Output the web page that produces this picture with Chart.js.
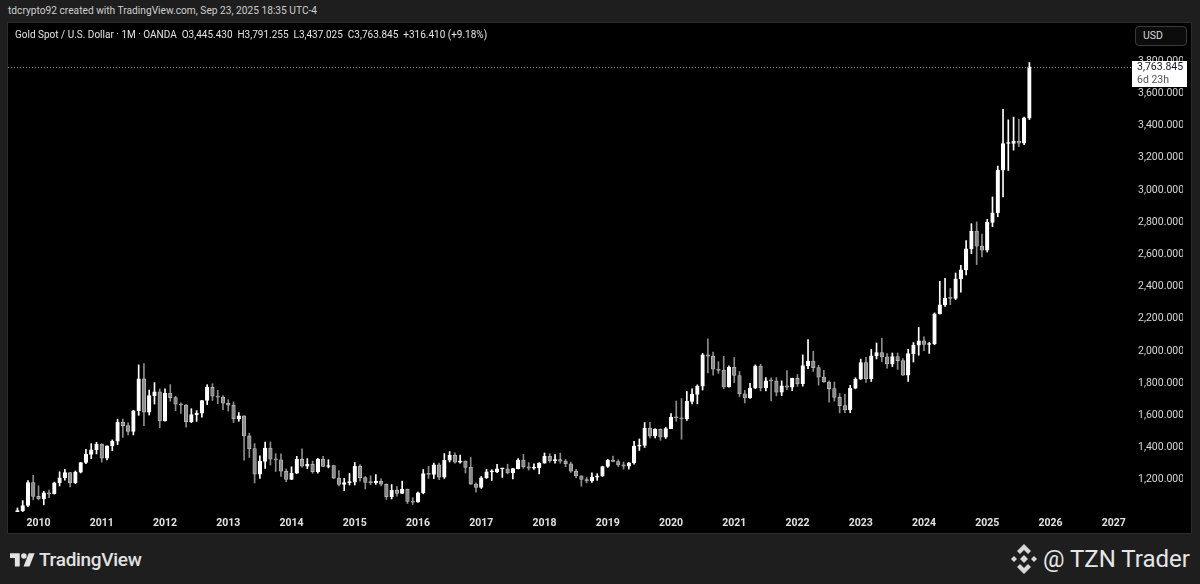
<!DOCTYPE html>
<html>
<head>
<meta charset="utf-8">
<script src="https://cdn.jsdelivr.net/npm/chart.js@4/dist/chart.umd.min.js"></script>
<style>
html,body{margin:0;padding:0;background:#1e1e1e;width:1200px;height:584px;overflow:hidden;font-family:Roboto,"Liberation Sans",sans-serif;}
#credit{position:absolute;left:8px;top:5px;font-size:10.2px;color:#cfcfcf;white-space:nowrap;}
#pane{position:absolute;left:8px;top:23px;width:1183px;height:510px;background:#000;box-shadow:0 0 0 1px #2b2b2b;}
#pane canvas{position:absolute;left:0;top:0;}
#legend{position:absolute;left:15px;top:29px;font-size:10px;color:#e4e4e4;white-space:nowrap;}
#usd{position:absolute;left:1135px;top:26px;width:52px;height:20px;border:1px solid #3a3a3a;border-radius:4px;background:#0c0c0c;box-sizing:border-box;color:#d6d6d6;font-size:10.5px;line-height:18px;padding-left:7px;}
#tvlogo{position:absolute;left:10px;top:548px;display:flex;align-items:center;color:#e2e2e2;font-size:19px;font-weight:500;letter-spacing:-0.3px;}
#tvlogo svg{margin-right:4px;}
#brand{position:absolute;left:1010px;top:543px;display:flex;align-items:center;color:#e6e6e6;font-size:24px;white-space:nowrap;}
#brand svg{margin-right:5px;}
</style>
</head>
<body>
<div id="credit">tdcrypto92 created with TradingView.com, Sep 23, 2025 18:35 UTC-4</div>
<div id="pane"><canvas id="c" width="1183" height="510"></canvas></div>
<div id="legend">Gold Spot / U.S. Dollar · 1M · OANDA&nbsp; O3,445.430&nbsp; H3,791.255&nbsp; L3,437.025&nbsp; C3,763.845&nbsp; +316.410 (+9.18%)</div>
<div id="usd">USD</div>
<div id="tvlogo"><svg width="25" height="17" viewBox="0 0 36 24"><path d="M14 22H7V10H0V3h14v19zM28 22h-8.5L27 3h8.5L28 22z" fill="#e2e2e2"/><circle cx="20" cy="7" r="4" fill="#e2e2e2"/></svg>TradingView</div>
<div id="brand"><svg width="28" height="32" viewBox="0 0 28 32"><g fill="#d8d8d8"><path d="M14 1l7 7-3 3-4-4-4 4-3-3z"/><path d="M14 31l7-7-3-3-4 4-4-4-3 3z"/><path d="M14 12l4 4-4 4-4-4z"/><path d="M4 13l3 3-3 3-3-3z"/><path d="M24 13l3 3-3 3-3-3z"/></g></svg>@ TZN Trader</div>
<script>
// ---- categories: monthly candles, Sep 2009 .. Sep 2025 ----
const months = [
"2009-09","2009-10","2009-11","2009-12",
"2010-01","2010-02","2010-03","2010-04","2010-05","2010-06","2010-07","2010-08","2010-09","2010-10","2010-11","2010-12",
"2011-01","2011-02","2011-03","2011-04","2011-05","2011-06","2011-07","2011-08","2011-09","2011-10","2011-11","2011-12",
"2012-01","2012-02","2012-03","2012-04","2012-05","2012-06","2012-07","2012-08","2012-09","2012-10","2012-11","2012-12",
"2013-01","2013-02","2013-03","2013-04","2013-05","2013-06","2013-07","2013-08","2013-09","2013-10","2013-11","2013-12",
"2014-01","2014-02","2014-03","2014-04","2014-05","2014-06","2014-07","2014-08","2014-09","2014-10","2014-11","2014-12",
"2015-01","2015-02","2015-03","2015-04","2015-05","2015-06","2015-07","2015-08","2015-09","2015-10","2015-11","2015-12",
"2016-01","2016-02","2016-03","2016-04","2016-05","2016-06","2016-07","2016-08","2016-09","2016-10","2016-11","2016-12",
"2017-01","2017-02","2017-03","2017-04","2017-05","2017-06","2017-07","2017-08","2017-09","2017-10","2017-11","2017-12",
"2018-01","2018-02","2018-03","2018-04","2018-05","2018-06","2018-07","2018-08","2018-09","2018-10","2018-11","2018-12",
"2019-01","2019-02","2019-03","2019-04","2019-05","2019-06","2019-07","2019-08","2019-09","2019-10","2019-11","2019-12",
"2020-01","2020-02","2020-03","2020-04","2020-05","2020-06","2020-07","2020-08","2020-09","2020-10","2020-11","2020-12",
"2021-01","2021-02","2021-03","2021-04","2021-05","2021-06","2021-07","2021-08","2021-09","2021-10","2021-11","2021-12",
"2022-01","2022-02","2022-03","2022-04","2022-05","2022-06","2022-07","2022-08","2022-09","2022-10","2022-11","2022-12",
"2023-01","2023-02","2023-03","2023-04","2023-05","2023-06","2023-07","2023-08","2023-09","2023-10","2023-11","2023-12",
"2024-01","2024-02","2024-03","2024-04","2024-05","2024-06","2024-07","2024-08","2024-09","2024-10","2024-11","2024-12",
"2025-01","2025-02","2025-03","2025-04","2025-05","2025-06","2025-07","2025-08","2025-09"
];
const openP = [
955,1008,1040,1182,
1096,1081,1118,1113,1180,1212,1244,1181,1247,1307,1357,1386,
1421,1333,1410,1439,1556,1536,1500,1628,1826,1620,1722,1746,
1565,1737,1710,1669,1664,1561,1604,1614,1692,1773,1719,1713,
1675,1663,1578,1596,1472,1393,1234,1314,1396,1327,1323,1253,
1201,1240,1326,1284,1296,1250,1327,1282,1287,1210,1171,1182,
1184,1283,1213,1183,1182,1190,1172,1095,1134,1115,1142,1065,
1061,1118,1238,1233,1293,1215,1321,1351,1309,1316,1277,1173,
1152,1211,1249,1249,1268,1268,1242,1269,1322,1280,1271,1275,
1303,1345,1318,1325,1315,1299,1253,1224,1201,1192,1215,1222,
1282,1321,1313,1292,1284,1305,1409,1413,1520,1472,1513,1464,
1517,1589,1585,1577,1686,1730,1781,1975,1967,1886,1879,1776,
1898,1847,1734,1708,1769,1906,1770,1814,1813,1743,1783,1774,
1829,1796,1909,1937,1896,1837,1807,1766,1711,1660,1633,1768,
1824,1928,1827,1969,1990,1963,1919,1965,1940,1849,1983,2036,
2063,2040,2044,2230,2286,2327,2326,2447,2503,2634,2744,2650,
2625,2798,2858,3123,3288,3289,3303,3290,3445.43
];
const highP = [
1024,1070,1195,1227,
1162,1128,1136,1185,1249,1265,1245,1254,1308,1388,1424,1432,
1424,1411,1447,1576,1577,1553,1632,1913,1921,1757,1803,1764,
1764,1791,1718,1677,1667,1641,1629,1693,1790,1796,1755,1723,
1697,1683,1617,1597,1488,1424,1348,1434,1434,1362,1361,1267,
1280,1345,1392,1331,1315,1332,1345,1324,1290,1256,1209,1239,
1307,1294,1220,1224,1232,1205,1174,1170,1157,1191,1142,1088,
1123,1263,1283,1303,1304,1362,1375,1367,1353,1317,1338,1181,
1220,1264,1262,1295,1270,1296,1270,1331,1357,1306,1299,1306,
1366,1361,1356,1365,1326,1309,1265,1224,1214,1243,1237,1284,
1326,1346,1324,1310,1306,1439,1453,1555,1557,1517,1516,1526,
1611,1689,1704,1748,1765,1789,1984,2075,1992,1933,1966,1907,
1959,1872,1755,1798,1913,1917,1834,1832,1834,1814,1877,1831,
1853,1975,2070,1998,1910,1879,1814,1807,1735,1730,1786,1833,
1949,1960,2009,2049,2079,1984,1987,1987,1953,2009,2052,2146,
2088,2052,2236,2432,2450,2388,2484,2531,2685,2790,2801,2726,
2817,2956,3148,3500,3435,3452,3439,3453,3791.255
];
const lowP = [
952,1002,1033,1075,
1075,1044,1088,1111,1161,1197,1155,1176,1242,1300,1331,1360,
1309,1323,1380,1417,1462,1478,1478,1600,1535,1602,1670,1523,
1563,1688,1628,1612,1527,1554,1562,1588,1666,1692,1672,1635,
1626,1555,1563,1321,1338,1180,1208,1270,1291,1251,1221,1187,
1200,1238,1278,1268,1240,1240,1281,1273,1207,1161,1132,1167,
1167,1191,1142,1169,1170,1162,1077,1080,1098,1113,1052,1046,
1060,1112,1208,1207,1200,1208,1310,1302,1302,1241,1171,1123,
1146,1208,1195,1243,1214,1236,1205,1267,1271,1260,1264,1236,
1302,1307,1303,1302,1281,1245,1211,1160,1180,1183,1196,1221,
1276,1311,1281,1266,1266,1296,1382,1400,1459,1459,1445,1456,
1517,1563,1451,1568,1671,1671,1757,1863,1849,1860,1765,1775,
1802,1717,1677,1705,1766,1751,1751,1690,1721,1722,1759,1753,
1780,1781,1890,1872,1787,1805,1681,1688,1615,1617,1616,1765,
1823,1804,1810,1950,1932,1893,1903,1885,1847,1810,1931,1973,
2002,1985,2039,2229,2277,2287,2319,2364,2472,2604,2536,2583,
2614,2772,2833,2957,3121,3247,3268,3281,3437.025
];
const closeP = [
1008,1040,1182,1096,
1081,1118,1113,1180,1212,1244,1181,1247,1307,1357,1386,1421,
1333,1410,1439,1556,1536,1500,1628,1826,1620,1722,1746,1565,
1737,1710,1669,1664,1561,1604,1614,1692,1773,1719,1713,1675,
1663,1578,1596,1472,1393,1234,1314,1396,1327,1323,1253,1201,
1240,1326,1284,1296,1250,1327,1282,1287,1210,1171,1182,1184,
1283,1213,1183,1182,1190,1172,1095,1134,1115,1142,1065,1061,
1118,1238,1233,1293,1215,1321,1351,1309,1316,1277,1173,1152,
1211,1249,1249,1268,1268,1242,1269,1322,1280,1271,1275,1303,
1345,1318,1325,1315,1299,1253,1224,1201,1192,1215,1222,1282,
1321,1313,1292,1284,1305,1409,1413,1520,1472,1513,1464,1517,
1589,1585,1577,1686,1730,1781,1975,1967,1886,1879,1776,1898,
1847,1734,1708,1769,1906,1770,1814,1813,1743,1783,1774,1829,
1796,1909,1937,1896,1837,1807,1766,1711,1660,1633,1768,1824,
1928,1827,1969,1990,1963,1919,1965,1940,1849,1983,2036,2063,
2040,2044,2230,2286,2327,2326,2447,2503,2634,2744,2650,2625,
2798,2858,3123,3288,3289,3303,3290,3447.435,3763.845
];
// ---- tick labels ----
const yearTicks = ["2010","2011","2012","2013","2014","2015","2016","2017","2018","2019","2020","2021","2022","2023","2024","2025","2026","2027"];
const priceTicks = [1200,1400,1600,1800,2000,2200,2400,2600,2800,3000,3200,3400,3600,3800];

// month index of a "YYYY-MM" label relative to the first category
const firstY = +months[0].slice(0,4), firstM = +months[0].slice(5,7);
function monthIndex(y, m){ return (y - firstY) * 12 + (m - firstM); }

const UP = '#ffffff', DOWN = '#8c8c8c', DOWN_EDGE = '#bdbdbd';
const isUp = closeP.map((c,i)=> c >= openP[i]);
const fillCol = isUp.map(u => u ? UP : DOWN);
const edgeCol = isUp.map(u => u ? UP : DOWN_EDGE);

const wickData = months.map((m,i)=>({x: monthIndex(+m.slice(0,4), +m.slice(5,7)), y:[lowP[i], highP[i]]}));
const bodyData = months.map((m,i)=>({x: monthIndex(+m.slice(0,4), +m.slice(5,7)), y:[openP[i], closeP[i]]}));

const fmt3 = v => v.toLocaleString('en-US',{minimumFractionDigits:3, maximumFractionDigits:3});

const lastPrice = {
  id:'lastPrice',
  afterDatasetsDraw(chart){
    const {ctx, chartArea, scales:{y}} = chart;
    const py = Math.round(y.getPixelForValue(closeP[closeP.length-1])) + 0.5;
    ctx.save();
    ctx.strokeStyle = '#8a8a8a'; ctx.lineWidth = 1; ctx.setLineDash([1,2]);
    ctx.beginPath(); ctx.moveTo(chartArea.left, py); ctx.lineTo(chartArea.right + 3, py); ctx.stroke();
    ctx.restore();
  },
  afterDraw(chart){
    const {ctx, chartArea, scales:{y}} = chart;
    const py = Math.round(y.getPixelForValue(closeP[closeP.length-1]));
    const x0 = chartArea.right + 3, w = 55;
    ctx.save();
    ctx.fillStyle = '#ffffff';
    ctx.fillRect(x0, py - 6, w, 26);
    ctx.font = '10.5px Roboto, "Liberation Sans", sans-serif';
    ctx.textBaseline = 'middle'; ctx.textAlign = 'left';
    ctx.fillStyle = '#131722';
    ctx.fillText(fmt3(closeP[closeP.length-1]), x0 + 5, py + 0.5);
    ctx.fillStyle = '#555555';
    ctx.fillText('6d 23h', x0 + 5, py + 13);
    ctx.restore();
  }
};

new Chart(document.getElementById('c'), {
  type: 'bar',
  data: {
    datasets: [
      { label:'body', data: bodyData, backgroundColor: fillCol, borderColor: edgeCol, borderWidth: 0.8,
        barThickness: 3.6, grouped: false, order: 0, minBarLength: 1, borderSkipped: false },
      { label:'wick', data: wickData, backgroundColor: fillCol, borderWidth: 0,
        barThickness: 1, grouped: false, order: 1, minBarLength: 1 }
    ]
  },
  options: {
    responsive: false,
    animation: false,
    events: [],
    layout: { padding: { left: 0, right: 8, top: 0, bottom: 0 } },
    plugins: { legend: { display: false }, tooltip: { enabled: false } },
    scales: {
      x: {
        type: 'linear', position: 'bottom', offset: false,
        min: -1.79, max: 210.9,
        grid: { display: false, drawTicks: false }, border: { display: false },
        afterBuildTicks: s => { s.ticks = yearTicks.map(t => ({ value: monthIndex(+t, 1) })); },
        afterFit: s => { s.height = 21; s.paddingLeft = 0; s.paddingRight = 0; },
        ticks: { autoSkip: false, maxRotation: 0, padding: 5, color: '#e2e2e2',
          font: { family: 'Roboto, "Liberation Sans", sans-serif', size: 10.5, weight: 'bold' },
          callback: (v) => yearTicks[(v - monthIndex(+yearTicks[0], 1)) / 12] }
      },
      y: {
        type: 'linear', position: 'right',
        min: 999.4, max: 4036.6,
        grid: { display: false, drawTicks: false }, border: { display: false },
        afterBuildTicks: s => { s.ticks = priceTicks.map(v => ({ value: v })); },
        afterFit: s => { s.width = 54; s.paddingTop = 0; s.paddingBottom = 0; },
        ticks: { padding: 9, color: '#d8d8d8',
          font: { family: 'Roboto, "Liberation Sans", sans-serif', size: 10.5 },
          callback: v => fmt3(v) }
      }
    }
  },
  plugins: [lastPrice]
});
</script>
</body>
</html>
